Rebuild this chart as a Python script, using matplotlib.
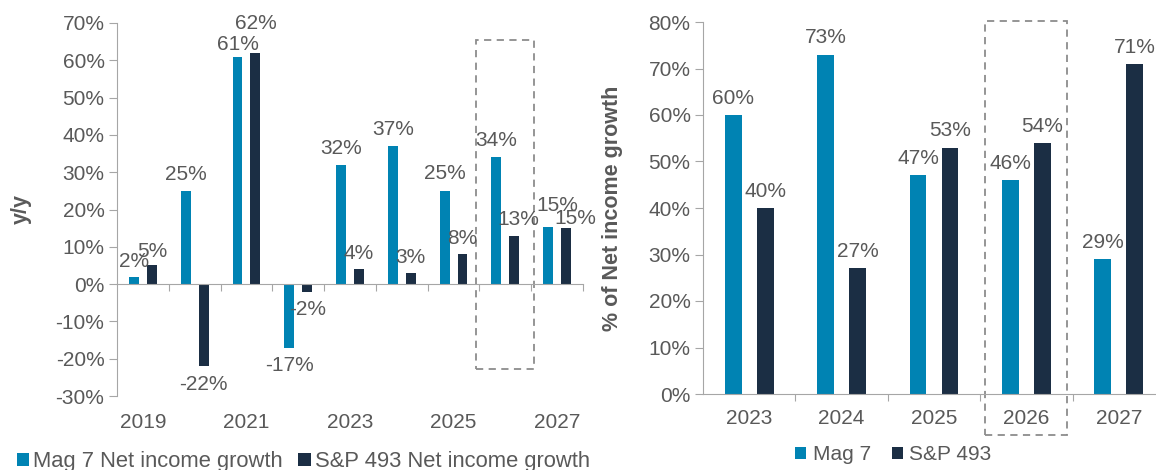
import numpy as np
import matplotlib.pyplot as plt
from matplotlib.patches import Rectangle
import matplotlib.transforms as mtransforms

plt.rcParams['font.family'] = ['Liberation Sans', 'DejaVu Sans']

years_l = ['2019', '2020', '2021', '2022', '2023', '2024', '2025', '2026', '2027']
mag7_growth = [2, 25, 61, -17, 32, 37, 25, 34, 15.3]
sp493_growth = [5, -22, 62, -2, 4, 3, 8, 13, 15]

years_r = ['2023', '2024', '2025', '2026', '2027']
mag7_share = [60, 73, 47, 46, 29]
sp493_share = [40, 27, 53, 54, 71]

c_mag = '#0083B3'
c_sp = '#1B2E44'
c_txt = '#595959'
c_ax = '#A6A6A6'
c_box = '#8C8C8C'
fs = 15

# label placement (points from bar end), a few were nudged in the original
gap_mag = [10.8, 11.5, 8.6, 13, 11.5, 12.2, 12.2, 12.2, 15.8]
gap_sp = [10, 13, 21, 13, 11.5, 10.8, 11.5, 11.5, 7.2]
dx_mag = [0, 0, 0, 0, 0, 0, 0, 0, 6.5]
dx_sp = [0, 0, 0, 0, 0, 0, 0, 3, 6.5]


def put_labels(ax, xs, vals, gaps, dxs):
    for xi, v, g, d in zip(xs, vals, gaps, dxs):
        sign = 1 if v >= 0 else -1
        ax.annotate('%d%%' % round(v), (xi, v), xytext=(d, sign * g),
                    textcoords='offset points', ha='center', va='center',
                    fontsize=fs, color=c_txt)


def style(ax):
    ax.spines['top'].set_visible(False)
    ax.spines['right'].set_visible(False)
    ax.spines['bottom'].set_color(c_ax)
    ax.spines['left'].set_color(c_ax)
    ax.tick_params(axis='x', length=5, color=c_ax, direction='out', labelbottom=False)
    ax.tick_params(axis='y', length=6, color=c_ax, labelsize=fs, labelcolor=c_txt, pad=3)


fig = plt.figure(figsize=(11.56, 4.70), dpi=100)
W, H = 1156, 470

# ---- left: y/y growth
ax1 = fig.add_axes([117/W, 1-396/H, (583-117)/W, (396-23)/H])
x = np.arange(len(years_l))
off, w = 0.173, 0.19
ax1.bar(x - off, mag7_growth, w, color=c_mag, label='Mag 7 Net income growth')
ax1.bar(x + off, sp493_growth, w, color=c_sp, label='S&P 493 Net income growth')
put_labels(ax1, x - off, mag7_growth, gap_mag, dx_mag)
put_labels(ax1, x + off, sp493_growth, gap_sp, dx_sp)
ax1.set_xlim(-0.5, 8.5)
ax1.set_ylim(-30, 70)
ax1.set_yticks(np.arange(-30, 71, 10))
ax1.set_yticklabels(['%d%%' % v for v in np.arange(-30, 71, 10)])
style(ax1)
ax1.spines['bottom'].set_position(('data', 0))
ax1.set_xticks(np.arange(0.5, 9, 1))
tr1 = mtransforms.blended_transform_factory(ax1.transData, ax1.transAxes)
for i in range(0, len(years_l), 2):
    ax1.text(x[i], -27/373, years_l[i], transform=tr1, ha='center', va='center',
             fontsize=fs, color=c_txt)
ax1.set_ylabel('y/y', fontsize=15.5, fontweight='bold', color=c_txt)
ax1.yaxis.set_label_coords(-85/466, 0.5)
ax1.add_patch(Rectangle((7 - 0.56, -22.8), 1.12, 88.2, fill=False, ls=(0, (4, 3)),
                        ec=c_box, lw=1.3, clip_on=False))
fig.legend(*ax1.get_legend_handles_labels(), loc='center left',
           bbox_to_anchor=(17/W, 1-462/H), ncol=2, frameon=False,
           fontsize=15.8, labelcolor=c_txt, handlelength=0.55, handleheight=0.55,
           handletextpad=0.2, columnspacing=0.7, borderpad=0, borderaxespad=0)

# ---- right: share of net income growth
ax2 = fig.add_axes([703/W, 1-394/H, (W-703)/W, (394-22)/H])
xr = np.arange(len(years_r))
off2, w2 = 0.173, 0.18
ax2.bar(xr - off2, mag7_share, w2, color=c_mag, label='Mag 7')
ax2.bar(xr + off2, sp493_share, w2, color=c_sp, label='S&P 493')
put_labels(ax2, xr - off2, mag7_share, [12] * 5, [0] * 5)
put_labels(ax2, xr + off2, sp493_share, [12] * 5, [0] * 5)
ax2.set_xlim(-0.5, (W-703)/92.4 - 0.5)
ax2.set_ylim(0, 80)
ax2.set_yticks(np.arange(0, 81, 10))
ax2.set_yticklabels(['%d%%' % v for v in np.arange(0, 81, 10)])
style(ax2)
ax2.set_xticks(np.arange(0.5, 4, 1))
tr2 = mtransforms.blended_transform_factory(ax2.transData, ax2.transAxes)
for i, yr in enumerate(years_r):
    ax2.text(xr[i], -25/372, yr, transform=tr2, ha='center', va='center',
             fontsize=fs, color=c_txt)
ax2.set_ylabel('% of Net income growth', fontsize=15.5, fontweight='bold', color=c_txt)
ax2.yaxis.set_label_coords(-80/453, 0.5)
ax2.add_patch(Rectangle((3 - 0.444, -8.8), 0.888, 89.0, fill=False, ls=(0, (4, 3)),
                        ec=c_box, lw=1.3, clip_on=False))
fig.legend(*ax2.get_legend_handles_labels(), loc='center left',
           bbox_to_anchor=(795/W, 1-455/H), ncol=2, frameon=False,
           fontsize=fs, labelcolor=c_txt, handlelength=0.55, handleheight=0.55,
           handletextpad=0.3, columnspacing=1.0, borderpad=0, borderaxespad=0)

fig.savefig('out.png', dpi=100)
